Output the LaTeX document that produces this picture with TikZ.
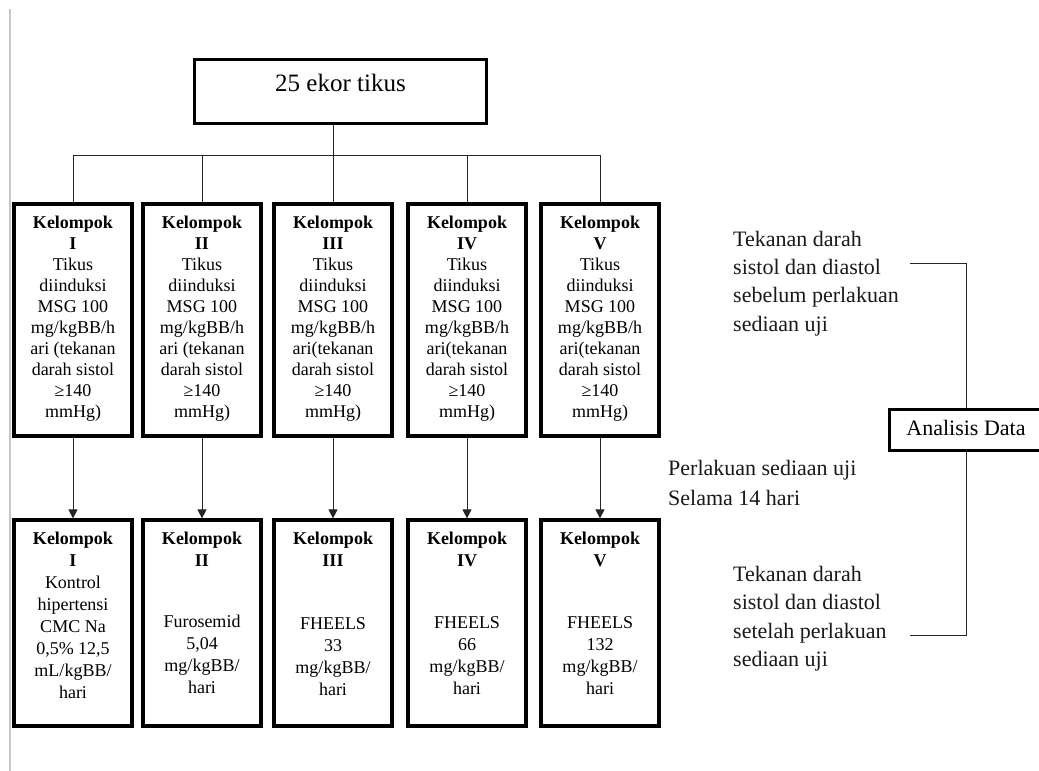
\documentclass[tikz,border=0pt]{standalone}
\usepackage{fontspec}
\setmainfont{Liberation Serif}
\usetikzlibrary{arrows.meta}

% fixed-size text panel: width, height, depth of first baseline, content
\newcommand{\panel}[4]{%
  \begin{minipage}[t][#2][t]{#1}\centering\rule{0pt}{#3}#4\end{minipage}}
% left-aligned text block whose reference point is its first baseline
\newcommand{\lines}[1]{\begin{tabular}[t]{@{}l@{}}#1\end{tabular}}

\tikzset{
  frame/.style={draw=black, line width=3.2pt, inner sep=0pt},
  grpup/.style={frame, font=\fontsize{18}{21}\selectfont},
  grplow/.style={frame, font=\fontsize{18}{22}\selectfont},
  link/.style={draw=black!85, line width=1pt},
  arr/.style={link, -{Triangle[length=9pt,width=9pt]}},
  note/.style={anchor=base west, inner sep=0pt, text=black!90},
}

\newcommand{\up}[2]{\panel{118pt}{232pt}{24pt}{\textbf{Kelompok}\\\textbf{#1}\\Tikus\\diinduksi\\MSG 100\\mg/kgBB/h\\#2\\darah sistol\\≥140\\mmHg)}}

\begin{document}
\begin{tikzpicture}[x=1pt, y=-1pt]
  \useasboundingbox (0,0) rectangle (1039,771);
  \clip (0,0) rectangle (1039,771);
  \fill[white] (0,0) rectangle (1039,771);

  % page margin rule
  \draw[black!22, line width=2pt] (10,9) -- (10,771);

  % root box
  \node[frame, minimum width=292pt, minimum height=64pt,
        font=\fontsize{25}{30}\selectfont, text height=12pt, text depth=12pt]
        (top) at (340.5,91.5) {25 ekor tikus};

  % induced groups
  \node[grpup] (up1) at (73,320)  {\up{I}{ari (tekanan}};
  \node[grpup] (up2) at (202,320) {\up{II}{ari (tekanan}};
  \node[grpup] (up3) at (333,320) {\up{III}{ari(tekanan}};
  \node[grpup] (up4) at (467,320) {\up{IV}{ari(tekanan}};
  \node[grpup] (up5) at (600,320) {\up{V}{ari(tekanan}};

  % treated groups
  \node[grplow] (low1) at (73,623) {\panel{118pt}{206pt}{24pt}{%
    \textbf{Kelompok}\\\textbf{I}\\Kontrol\\hipertensi\\CMC Na\\0,5\% 12,5\\mL/kgBB/\\hari}};
  \node[grplow] (low2) at (202,623) {\panel{118pt}{206pt}{24pt}{%
    \textbf{Kelompok}\\\textbf{II}\\[39pt]Furosemid\\5,04\\mg/kgBB/\\hari}};
  \node[grplow] (low3) at (333,623) {\panel{118pt}{206pt}{24pt}{%
    \textbf{Kelompok}\\\textbf{III}\\[41pt]FHEELS\\33\\mg/kgBB/\\hari}};
  \node[grplow] (low4) at (467,623) {\panel{118pt}{206pt}{24pt}{%
    \textbf{Kelompok}\\\textbf{IV}\\[40pt]FHEELS\\66\\mg/kgBB/\\hari}};
  \node[grplow] (low5) at (600,623) {\panel{118pt}{206pt}{24pt}{%
    \textbf{Kelompok}\\\textbf{V}\\[40pt]FHEELS\\132\\mg/kgBB/\\hari}};

  % analysis box, running off the right edge
  \node[frame, minimum width=153pt, minimum height=41pt,
        font=\fontsize{22}{26}\selectfont, text height=15pt, text depth=4pt]
        (ana) at (966,430) {Analisis Data};

  % side notes
  \node[note, font=\fontsize{22}{28.4}\selectfont] (pre) at (733,246)
    {\lines{Tekanan darah\\sistol dan diastol\\sebelum perlakuan\\sediaan uji}};
  \node[note, font=\fontsize{22}{30}\selectfont] (treat) at (668,475)
    {\lines{Perlakuan sediaan uji\\Selama 14 hari}};
  \node[note, font=\fontsize{22}{28.6}\selectfont] (post) at (733,581)
    {\lines{Tekanan darah\\sistol dan diastol\\setelah perlakuan\\sediaan uji}};

  % distribution bus
  \coordinate (bus) at (0,155);
  \draw[link] (top.south -| up3.north) -- (up3.north);
  \draw[link] (up1.north) |- (bus -| up5.north) -- (up5.north);
  \draw[link] (up2.north) -- (bus -| up2.north);
  \draw[link] (up4.north) -- (bus -| up4.north);

  % treatment arrows
  \foreach \i in {1,...,5}
    \draw[arr] (up\i.south) -- (low\i.north);

  % measurements feeding the analysis
  \coordinate (preend) at (910,263);
  \coordinate (postend) at (910,635);
  \draw[link] (preend) -| (ana.north);
  \draw[link] (postend) -| (ana.south);
\end{tikzpicture}
\end{document}
